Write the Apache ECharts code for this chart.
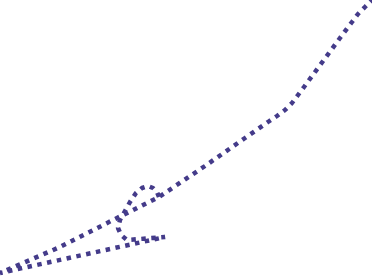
<!DOCTYPE html>
<html><head><meta charset="utf-8">
<script src="https://cdn.jsdelivr.net/npm/echarts@6/dist/echarts.min.js"></script>
<style>html,body{margin:0;padding:0;background:#fff}#c{width:372px;height:277px}</style>
</head><body><div id="c"></div>
<script>
// trajectory values (x, y)
const xValues = [159, 157, 153, 148, 142, 136, 130, 125, 120, 118, 121, 127, 165, 0, 60, 113, 159, 205, 245, 268, 277, 285, 292, 298, 304, 340, 352, 358, 365, 372];
const yValues = [80, 85, 89, 91, 89, 84, 75, 66, 57, 49, 42, 37, 40, 4, 30, 57, 80, 111, 139, 155, 161, 167, 174, 182, 190, 239, 255, 263, 270, 277];

const data = xValues.map((x, i) => [x, yValues[i]]);
const chart = echarts.init(document.getElementById('c'), null, {renderer: 'canvas'});
chart.setOption({
  animation: false,
  grid: {left: 0, right: 0, top: 0, bottom: 0},
  xAxis: {type: 'value', min: 0, max: 372, show: false},
  yAxis: {type: 'value', min: 0, max: 277, show: false},
  series: [{
    type: 'line',
    data: data,
    showSymbol: false,
    smooth: false,
    clip: false,
    lineStyle: {color: '#443b8a', width: 4.5, type: [4.5, 5.5]}
  }]
});
</script></body></html>
